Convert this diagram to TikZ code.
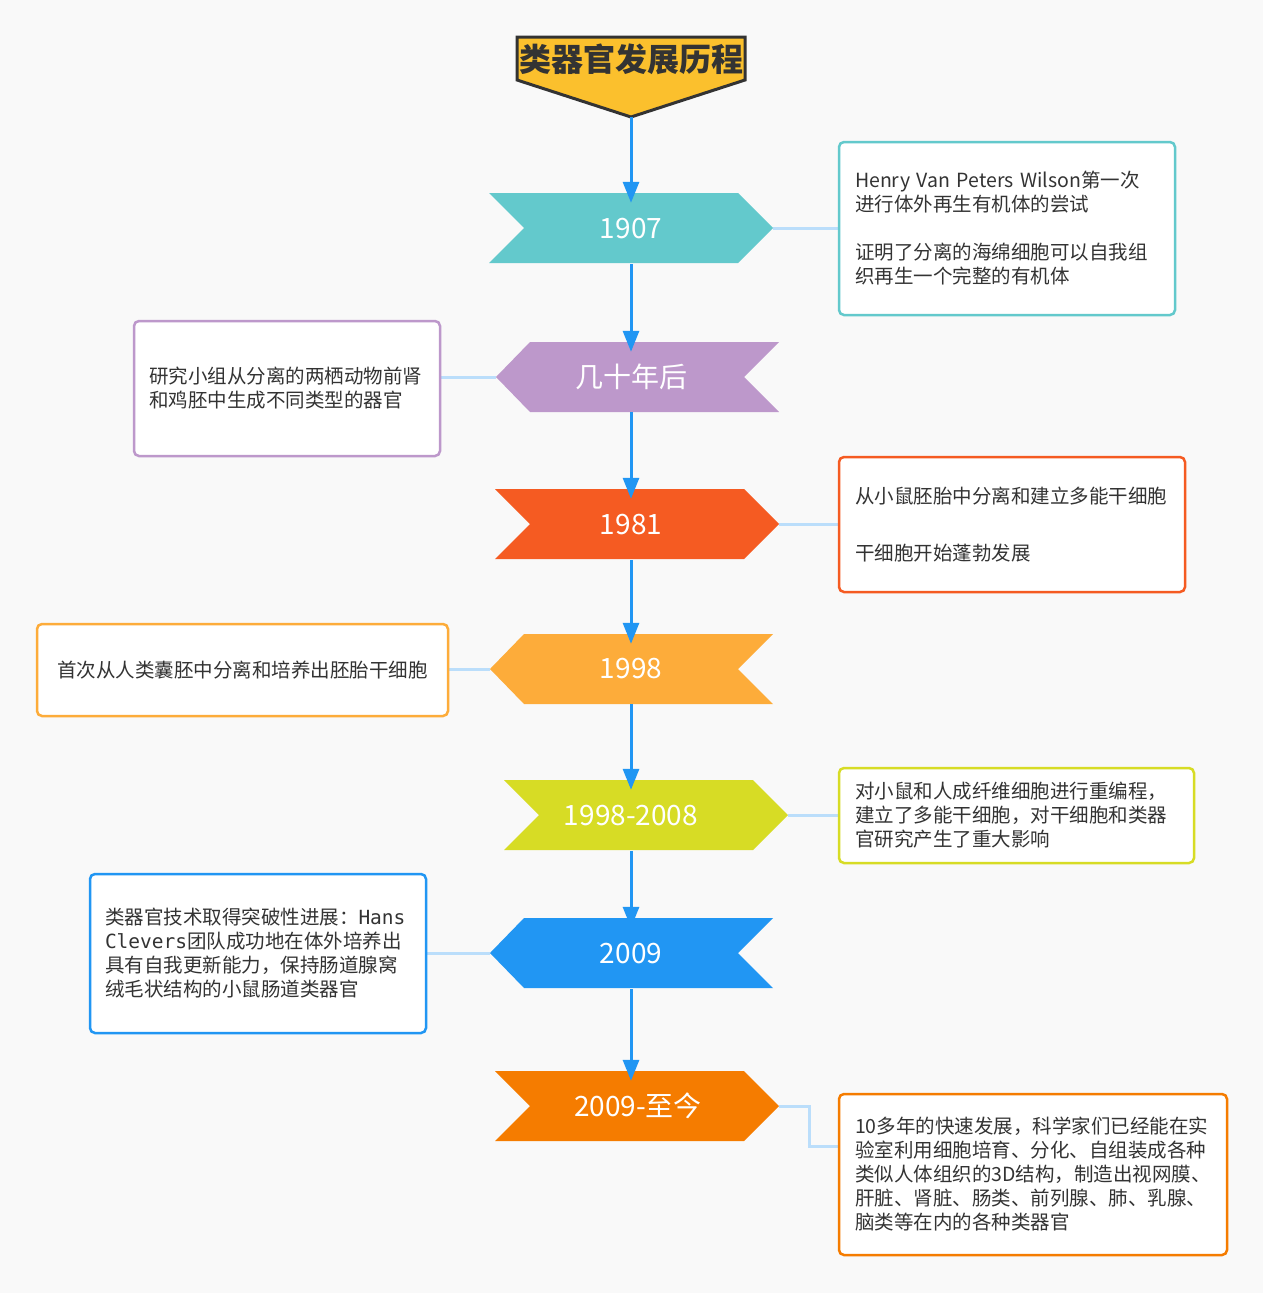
\documentclass[tikz,border=0pt]{standalone}
\usepackage{fontspec}
\setmainfont{Noto Sans CJK SC}
\newfontfamily\monofont{DejaVu Sans Mono}
\usetikzlibrary{arrows.meta,calc}
\pgfdeclarelayer{back}
\pgfdeclarelayer{conn}
\pgfsetlayers{back,conn,main}
\definecolor{bg}{HTML}{F9F9F9}
\definecolor{spineblue}{HTML}{2196F3}
\definecolor{sideblue}{HTML}{BBDEFB}
\definecolor{txt}{HTML}{333333}
\definecolor{cteal}{HTML}{63C9CC}
\definecolor{cpurple}{HTML}{BD98CB}
\definecolor{cred}{HTML}{F55B22}
\definecolor{corange}{HTML}{FDAC3A}
\definecolor{clime}{HTML}{D7DC25}
\definecolor{cblue}{HTML}{2196F3}
\definecolor{cdeep}{HTML}{F57C00}
\definecolor{ctitle}{HTML}{FBC02D}
% right-pointing chevron: name, left x, mid y, colour
\newcommand{\rchev}[4]{%
  \fill[#4] (#2,#3-35) -- ++(249,0) -- ++(35,35) -- ++(-35,35) -- ++(-249,0) -- ++(35,-35) -- cycle;
  \coordinate (#1) at (#2+284,#3);}
% left-pointing chevron: name, tip x, mid y, colour
\newcommand{\lchev}[4]{%
  \fill[#4] (#2,#3) -- ++(34,-35) -- ++(249,0) -- ++(-35,35) -- ++(35,35) -- ++(-249,0) -- cycle;
  \coordinate (#1) at (#2,#3);}
\tikzset{
  yearlabel/.style={text=white, font=\fontsize{28}{30}\selectfont, minimum height=70pt, inner sep=0pt},
  infobox/.style={draw=#1, line width=2.5pt, rounded corners=5pt, fill=white, text=txt,
    font=\fontsize{19.5}{24}\selectfont, align=left, inner xsep=16pt, inner ysep=0pt},
  spine/.style={draw=spineblue, line width=3pt, -{Triangle[width=16pt,length=21pt]}, shorten >=-10pt},
  side/.style={draw=sideblue, line width=3pt},
}
\begin{document}
\begin{tikzpicture}[x=1pt,y=-1pt]
\useasboundingbox (0,0) rectangle (1263,1293);
\begin{pgfonlayer}{back}
\fill[bg] (0,0) rectangle (1263,1293);
\end{pgfonlayer}

% chevrons
\rchev{t1907}{489}{228}{cteal}
\lchev{tdec}{496}{377}{cpurple}
\rchev{t1981}{495}{524}{cred}
\lchev{t1998}{490}{669}{corange}
\rchev{t9808}{504}{815}{clime}
\lchev{t2009}{490}{953}{cblue}
\rchev{tnow}{495}{1106}{cdeep}

% year labels
\node[yearlabel] (y1907) at (631,229) {1907};
\node[yearlabel] (ydec)  at (631,377) {几十年后};
\node[yearlabel] (y1981) at (631,525) {1981};
\node[yearlabel] (y1998) at (631,669) {1998};
\node[yearlabel] (y9808) at (631,816) {1998-2008};
\node[yearlabel] (y2009) at (631,954) {2009};
\node[yearlabel] (ynow)  at (638,1106) {2009-至今};

% info boxes
\node[infobox=cteal, minimum width=336pt, minimum height=173pt, text width=304pt] (b1907) at (1007,228.5)
  {Henry~Van~Peters~Wilson第一次\\进行体外再生有机体的尝试\\[24pt]证明了分离的海绵细胞可以自我组\\织再生一个完整的有机体};
\node[infobox=cpurple, minimum width=306pt, minimum height=135pt, text width=276pt, inner xsep=15pt] (bdec) at (287,388.5)
  {研究小组从分离的两栖动物前肾\\和鸡胚中生成不同类型的器官};
\node[infobox=cred, minimum width=346pt, minimum height=135pt, text width=314pt] (b1981) at (1012,524.5)
  {从小鼠胚胎中分离和建立多能干细胞\\[33pt]干细胞开始蓬勃发展};
\node[infobox=corange, minimum width=411pt, minimum height=92pt, text width=379pt, align=center] (b1998) at (242.5,670)
  {首次从人类囊胚中分离和培养出胚胎干细胞};
\node[infobox=clime, minimum width=355pt, minimum height=95pt, text width=323pt] (b9808) at (1016.5,815.5)
  {对小鼠和人成纤维细胞进行重编程，\\建立了多能干细胞，对干细胞和类器\\官研究产生了重大影响};
\node[infobox=cblue, minimum width=336pt, minimum height=159pt, text width=306pt, inner xsep=15pt] (b2009) at (258,953.5)
  {类器官技术取得突破性进展：{\monofont Hans}\\{\monofont Clevers}团队成功地在体外培养出\\具有自我更新能力，保持肠道腺窝\\绒毛状结构的小鼠肠道类器官};
\node[infobox=cdeep, minimum width=388pt, minimum height=161pt, text width=356pt] (bnow) at (1033,1174.5)
  {10多年的快速发展，科学家们已经能在实\\验室利用细胞培育、分化、自组装成各种\\类似人体组织的3D结构，制造出视网膜、\\肝脏、肾脏、肠类、前列腺、肺、乳腺、\\脑类等在内的各种类器官};

% side connectors
\begin{pgfonlayer}{conn}
\draw[side] (t1907) -- (t1907 -| b1907.west);
\draw[side] (tdec) -- (tdec -| bdec.east);
\draw[side] (t1981) -- (t1981 -| b1981.west);
\draw[side] (t1998) -- (t1998 -| b1998.east);
\draw[side] (t9808) -- (t9808 -| b9808.west);
\draw[side] (t2009) -- (t2009 -| b2009.east);
\draw[side] (tnow) -- ++(30,0) |- ([yshift=28.5pt]bnow.west);
\end{pgfonlayer}

% title
\filldraw[fill=ctitle, draw=txt, line width=3pt, line join=miter] (517,37) -- (745,37) -- (745,80) -- (631,117) -- (517,80) -- cycle;
\coordinate (titletip) at (631,117);
\node[text=txt, font=\fontsize{32}{34}\selectfont\bfseries, inner sep=0pt] (title) at (631,59) {类器官发展历程};

% spine arrows
\draw[spine] (titletip) -- ([yshift=1pt]y1907.north);
\draw[spine] (y1907.south) -- (ydec.north);
\draw[spine] (ydec.south) -- ([yshift=1pt]y1981.north);
\draw[spine] (y1981.south) -- (y1998.north);
\draw[spine] (y1998.south) -- ([yshift=1pt]y9808.north);
\draw[spine] (y9808.south) -- ([yshift=1pt]y2009.north);
\draw[spine] (y2009.south) -- (y2009.south |- ynow.north);
\end{tikzpicture}
\end{document}
